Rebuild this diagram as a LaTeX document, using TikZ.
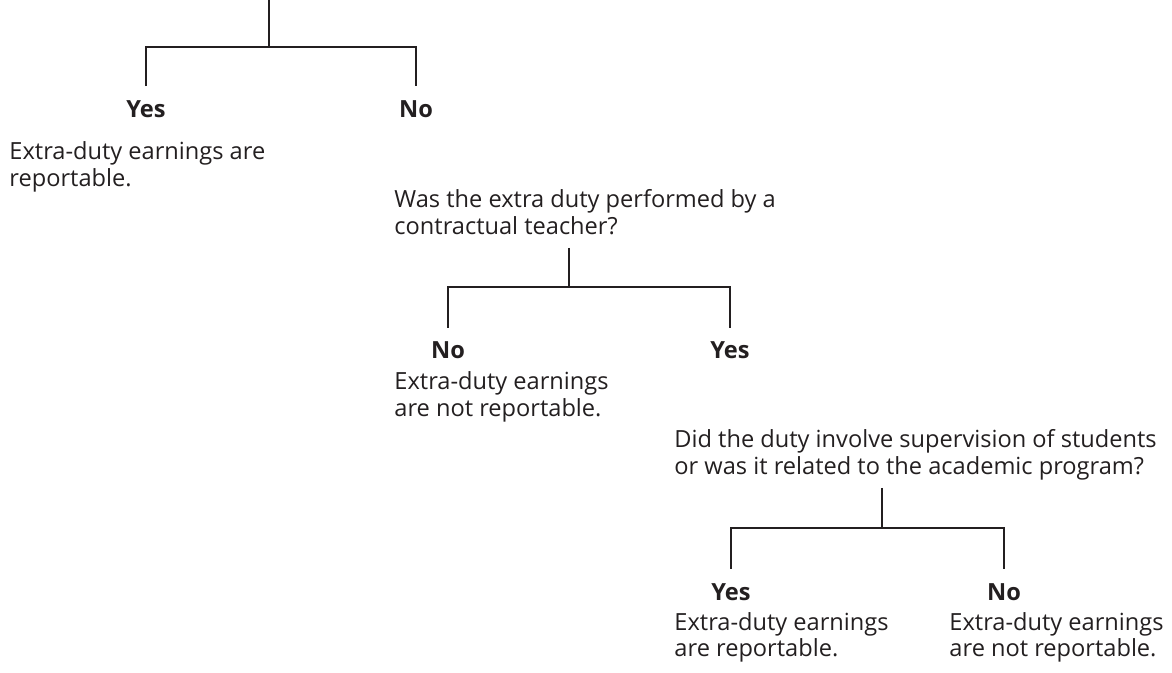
\documentclass[tikz,border=0pt]{standalone}
\usepackage{fontspec}
\setmainfont{Open Sans}
\definecolor{ink}{HTML}{231F20}

\tikzset{every picture/.style={line width=2.2pt}}
\tikzset{
  answer/.style={font=\fontsize{17.7}{20.25}\selectfont\bfseries, anchor=base, inner sep=0pt, text height=22.5pt},
  note/.style={font=\fontsize{17.7}{20.25}\selectfont, align=left, anchor=base west, inner sep=0pt},
}

\begin{document}
\begin{tikzpicture}[x=0.75pt,y=0.75pt,yscale=-1,xscale=1,color=ink]
\useasboundingbox (0,0) rectangle (1172,673);

\node [answer] (yes1) at (146,117.7) {Yes};
\node [answer] (no1) at (416,117.7) {No};
\node [note] (out1) at (8,187) {Extra-duty earnings are\\reportable.};

\node [note] (q2) at (393,235) {Was the extra duty performed by a\\contractual teacher?};
\node [answer] (no2) at (448,359) {No};
\node [answer] (yes2) at (730,359) {Yes};
\node [note] (out2) at (393,417) {Extra-duty earnings\\are not reportable.};

\node [note] (q3) at (673,475) {Did the duty involve supervision of students\\or was it related to the academic program?};
\node [answer] (yes3) at (731,600) {Yes};
\node [answer] (no3) at (1004,600) {No};
\node [note] (out3) at (673,657) {Extra-duty earnings\\are reportable.};
\node [note] (out4) at (948,657) {Extra-duty earnings\\are not reportable.};

\coordinate (q1) at (269,0);
\coordinate (j1) at (269,47);
\coordinate (j2) at (569,287);
\coordinate (j3) at (882,528);

\draw (q1) -- (j1);
\draw (yes1.north) |- (j1) -| (no1.north);

\draw (j2 |- q2.base) ++(0,13) -- (j2);
\draw (no2.north) |- (j2) -| (yes2.north);

\draw (j3 |- q3.base) ++(0,13) -- (j3);
\draw (yes3.north) |- (j3) -| (no3.north);

\end{tikzpicture}
\end{document}
